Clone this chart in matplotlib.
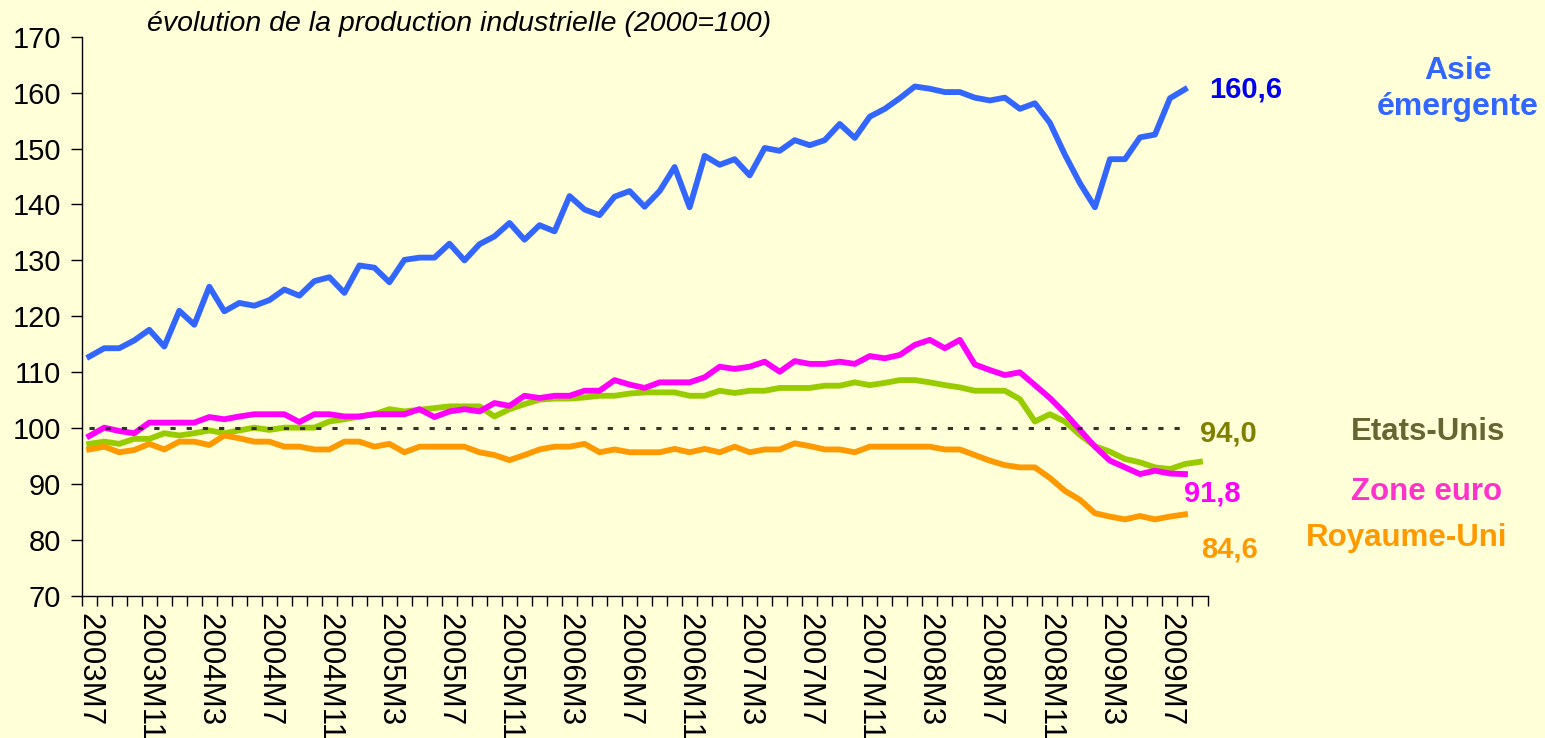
import matplotlib
matplotlib.use("Agg")
import matplotlib.pyplot as plt
import numpy as np

plt.rcParams['font.family'] = ['Liberation Sans', 'DejaVu Sans']

# Mois 2003M7 -> 2009M9 (axe des catégories)
mois = []
for annee in range(2003, 2010):
    for m in range(1, 13):
        if (annee == 2003 and m < 7) or (annee == 2009 and m > 9):
            continue
        mois.append(f"{annee}M{m}")

# Production industrielle (2000=100)
asie = [112.8, 114.3, 114.3, 115.7, 117.6, 114.6, 121.0, 118.5, 125.3, 120.9,
        122.4, 121.9, 122.9, 124.8, 123.7, 126.3, 127.0, 124.2, 129.1, 128.7,
        126.1, 130.1, 130.5, 130.5, 133.0, 130.0, 132.9, 134.3, 136.7, 133.7,
        136.3, 135.2, 141.5, 139.1, 138.1, 141.4, 142.4, 139.6, 142.4, 146.7,
        139.5, 148.7, 147.1, 148.1, 145.2, 150.1, 149.6, 151.5, 150.6, 151.5,
        154.4, 151.9, 155.7, 157.1, 159.0, 161.1, 160.7, 160.1, 160.1, 159.1,
        158.6, 159.1, 157.1, 158.1, 154.6, 148.9, 143.8, 139.5, 148.1, 148.1,
        152.0, 152.5, 159.0, 160.6]

zone_euro = [98.6, 100.1, 99.5, 99.1, 101.0, 101.0, 101.0, 101.0, 102.0, 101.6,
             102.1, 102.5, 102.5, 102.5, 101.1, 102.5, 102.5, 102.1, 102.1, 102.5,
             102.5, 102.5, 103.4, 102.0, 103.0, 103.4, 103.0, 104.5, 104.0, 105.8,
             105.4, 105.8, 105.8, 106.7, 106.7, 108.6, 107.8, 107.2, 108.2, 108.2,
             108.2, 109.1, 111.0, 110.6, 111.0, 111.9, 110.1, 112.0, 111.5, 111.5,
             111.9, 111.5, 112.9, 112.5, 113.1, 114.9, 115.8, 114.3, 115.8, 111.4,
             110.4, 109.5, 110.0, 107.7, 105.4, 102.7, 99.7, 96.7, 94.2, 93.0,
             91.8, 92.4, 91.9, 91.8]

etats_unis = [97.2, 97.6, 97.2, 98.1, 98.1, 99.1, 98.7, 99.1, 99.6, 99.1,
              99.6, 100.1, 99.7, 100.1, 100.1, 100.1, 101.2, 101.6, 102.1, 102.5,
              103.4, 103.0, 103.3, 103.6, 103.9, 103.9, 103.9, 102.1, 103.4, 104.3,
              105.1, 105.3, 105.3, 105.5, 105.8, 105.8, 106.2, 106.4, 106.4, 106.4,
              105.8, 105.8, 106.7, 106.3, 106.7, 106.7, 107.2, 107.2, 107.2, 107.6,
              107.6, 108.2, 107.7, 108.1, 108.6, 108.6, 108.2, 107.7, 107.3, 106.7,
              106.7, 106.7, 105.2, 101.2, 102.5, 101.2, 98.8, 96.8, 95.8, 94.5,
              93.9, 93.0, 92.7, 93.6, 94.0]

royaume_uni = [96.2, 96.7, 95.7, 96.1, 97.2, 96.2, 97.6, 97.6, 97.0, 98.7,
               98.2, 97.6, 97.6, 96.7, 96.7, 96.2, 96.2, 97.6, 97.6, 96.7,
               97.2, 95.7, 96.7, 96.7, 96.7, 96.7, 95.7, 95.2, 94.3, 95.2,
               96.2, 96.7, 96.7, 97.2, 95.7, 96.2, 95.7, 95.7, 95.7, 96.3,
               95.7, 96.3, 95.7, 96.7, 95.7, 96.2, 96.2, 97.3, 96.8, 96.2,
               96.2, 95.7, 96.7, 96.7, 96.7, 96.7, 96.7, 96.2, 96.2, 95.2,
               94.2, 93.4, 93.0, 93.0, 91.1, 88.8, 87.2, 84.8, 84.2, 83.7,
               84.3, 83.7, 84.2, 84.6]

base_100 = [100] * len(asie)

W, H = 1545, 738
BG = '#FFFFD8'

fig = plt.figure(figsize=(W / 100, H / 100), dpi=100, facecolor=BG)
ax = fig.add_axes([81.7 / W, (H - 596) / H, (1207.5 - 81.7) / W, (596 - 36.7) / H])
ax.set_facecolor(BG)

x_a = np.arange(len(asie))
x_us = np.arange(len(etats_unis))

lw = 4.2
ax.plot(x_us, etats_unis, color='#99CC00', lw=lw, solid_joinstyle='round', zorder=3)
ax.plot(x_a, royaume_uni, color='#FF9900', lw=lw, solid_joinstyle='round', zorder=3)
ax.plot(x_a, zone_euro, color='#FF00FF', lw=lw, solid_joinstyle='round', zorder=4)
ax.plot(x_a, asie, color='#3366FF', lw=lw, solid_joinstyle='round', zorder=4)
ax.plot(x_a, base_100, color='#333333', lw=2.2, dashes=(1.7, 3.6), zorder=5)

ax.set_xlim(-0.5, len(mois) - 0.5)
ax.set_ylim(70, 170)
ax.set_yticks(np.arange(70, 171, 10))

# graduations entre les catégories, étiquettes tous les 4 mois
ax.set_xticks(np.arange(-0.5, len(mois), 1), minor=True)
ax.set_xticks(np.arange(0, len(mois), 4))
ax.set_xticklabels([mois[i] for i in range(0, len(mois), 4)], rotation=270,
                   fontsize=22.5)
ax.tick_params(axis='x', which='major', length=0, pad=12)
ax.tick_params(axis='x', which='minor', length=7, width=1, direction='out')
ax.tick_params(axis='y', length=8, width=1, labelsize=21, pad=7)

for s in ['top', 'right']:
    ax.spines[s].set_visible(False)
for s in ['left', 'bottom']:
    ax.spines[s].set_linewidth(1.0)

fig.text(147 / W, 1 - 31 / H, "évolution de la production industrielle (2000=100)",
         fontsize=20.5, style='italic', va='baseline', ha='left')

# valeurs finales
ax.annotate("160,6", xy=(x_a[-1], asie[-1]), xytext=(24, 0), textcoords='offset pixels',
            color='#0000EE', fontsize=21, fontweight='bold', va='center', ha='left')
ax.annotate("94,0", xy=(x_us[-1], etats_unis[-1]), xytext=(0, 28), textcoords='offset pixels',
            color='#808000', fontsize=21, fontweight='bold', va='center', ha='left')
ax.annotate("91,8", xy=(x_a[-1], zone_euro[-1]), xytext=(-1, -19), textcoords='offset pixels',
            color='#FF00FF', fontsize=21, fontweight='bold', va='center', ha='left')
ax.annotate("84,6", xy=(x_a[-1], royaume_uni[-1]), xytext=(16, -35), textcoords='offset pixels',
            color='#FF9900', fontsize=21, fontweight='bold', va='center', ha='left')

# noms des zones
fig.text(1458 / W, 1 - 89 / H, "Asie\némergente", color='#3366FF', fontsize=23,
         fontweight='bold', ha='center', va='center', multialignment='center',
         linespacing=1.25)
fig.text(1428 / W, 1 - 432 / H, "Etats-Unis", color='#666633', fontsize=22.5,
         fontweight='bold', ha='center', va='center')
fig.text(1427 / W, 1 - 492 / H, "Zone euro", color='#FF33CC', fontsize=22.5,
         fontweight='bold', ha='center', va='center')
fig.text(1407 / W, 1 - 538 / H, "Royaume-Uni", color='#FF9900', fontsize=22.5,
         fontweight='bold', ha='center', va='center')

fig.savefig("out.png", dpi=100, facecolor=BG)
